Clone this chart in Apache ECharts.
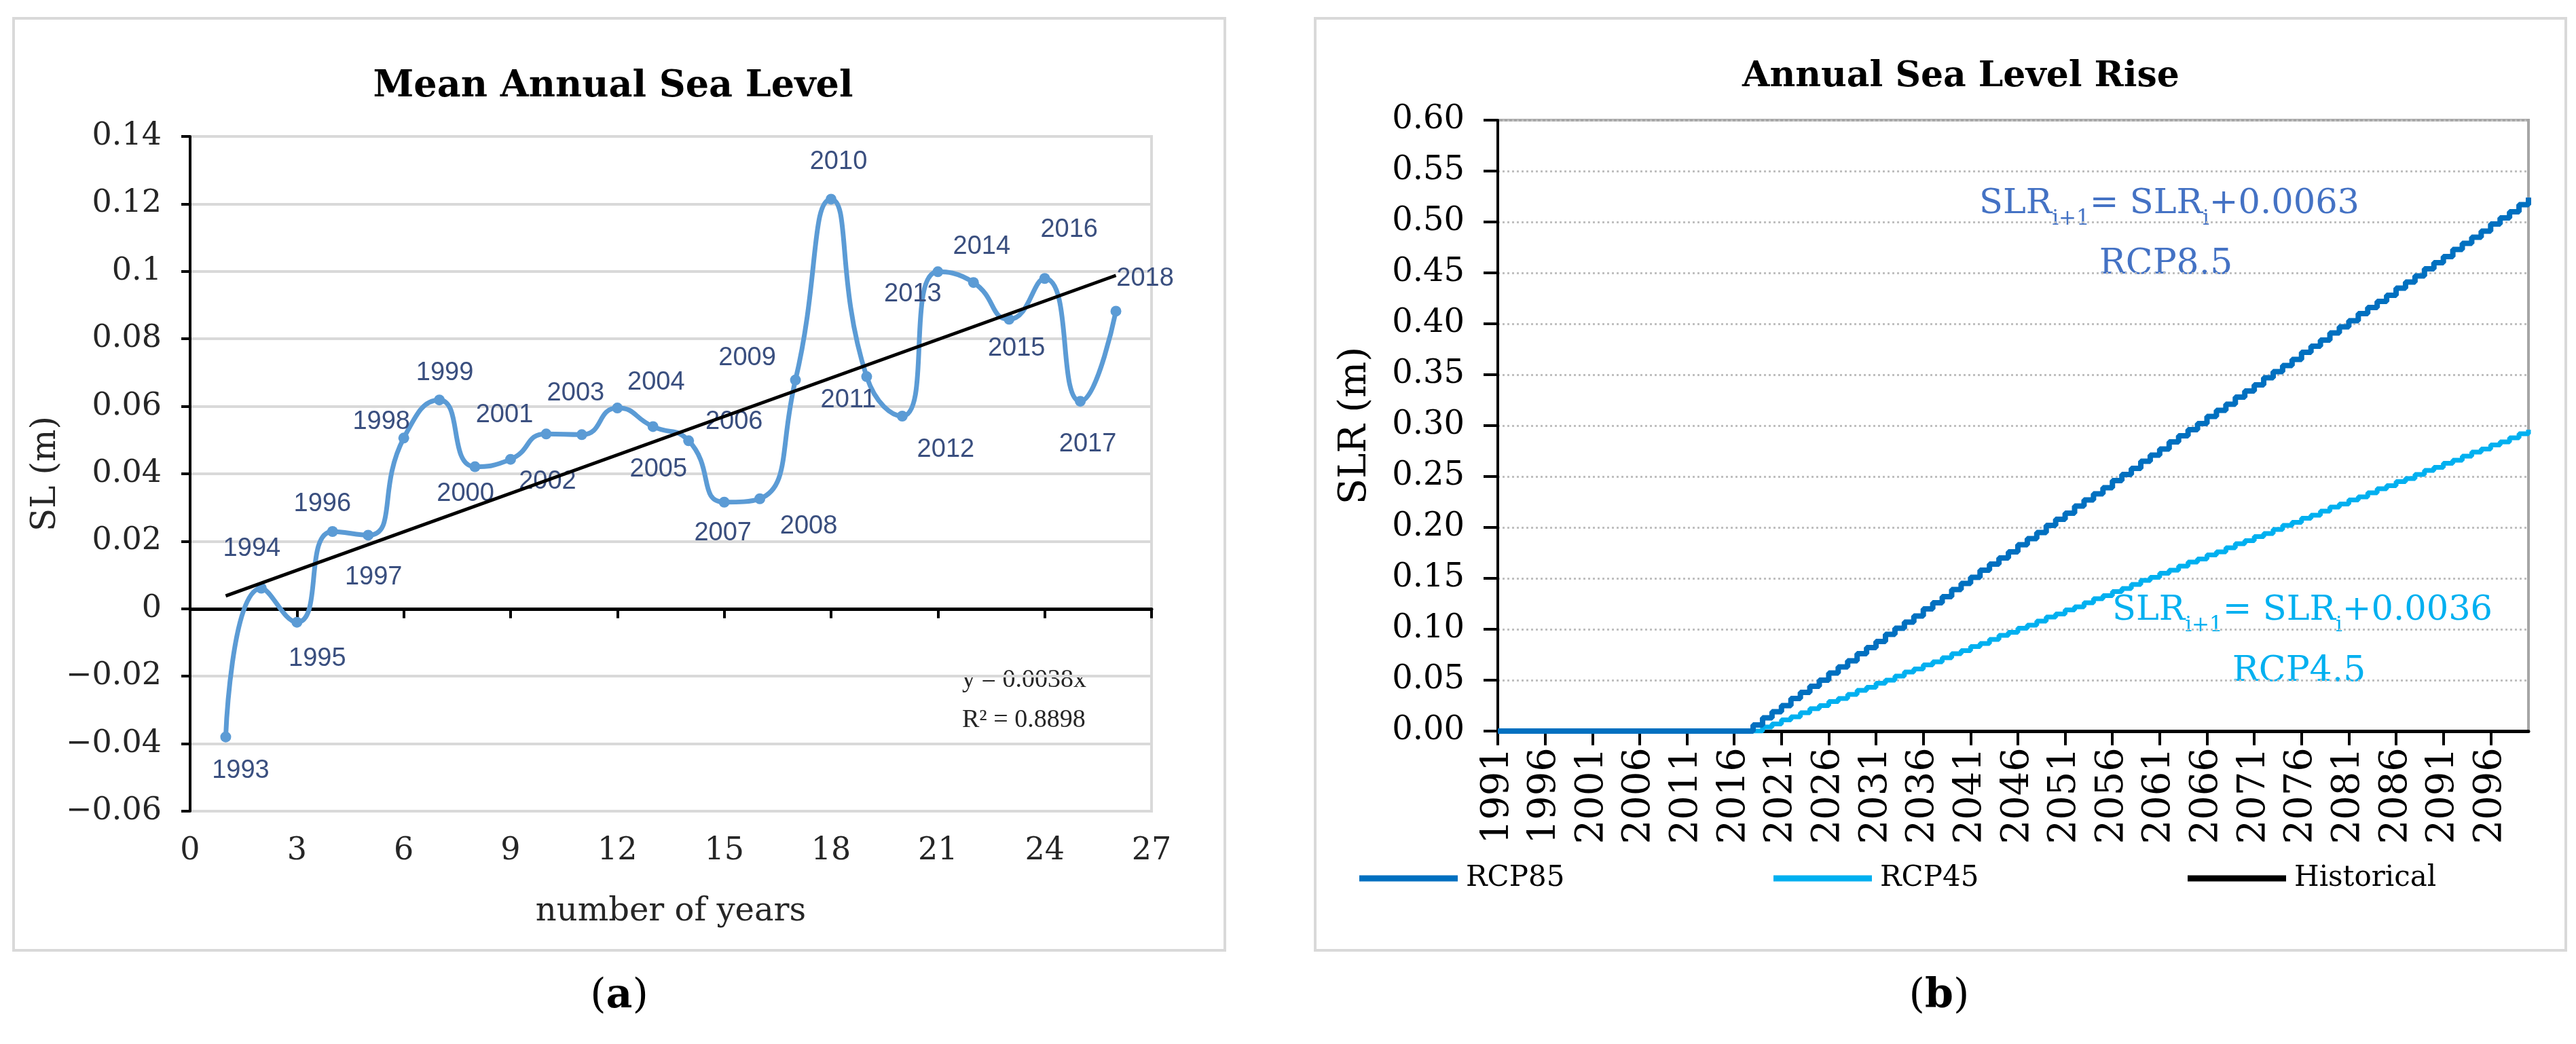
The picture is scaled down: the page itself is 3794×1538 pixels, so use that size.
<!DOCTYPE html>
<html><head><meta charset="utf-8">
<script src="https://cdn.jsdelivr.net/npm/echarts@6/dist/echarts.min.js"></script>
<style>html,body{margin:0;padding:0;background:#fff}#c{width:3794px;height:1538px}</style>
</head><body><div id="c"></div>
<script>
// ---------- Panel (a): Mean Annual Sea Level ----------
const yearsA = [1993,1994,1995,1996,1997,1998,1999,2000,2001,2002,2003,2004,2005,2006,2007,2008,2009,2010,2011,2012,2013,2014,2015,2016,2017,2018];
const yearNumA = [1,2,3,4,5,6,7,8,9,10,11,12,13,14,15,16,17,18,19,20,21,22,23,24,25,26];
const slA = [-0.038,0.0061,-0.0040,0.0229,0.0218,0.0506,0.0619,0.0421,0.0443,0.0518,0.0516,0.0595,0.0540,0.0498,0.0316,0.0326,0.0678,0.1214,0.0688,0.0571,0.0999,0.0967,0.0858,0.0979,0.0615,0.0882];
const trendX = [1, 26];
const trendY = [0.0038, 0.0988];

// ---------- Panel (b): Annual Sea Level Rise ----------
const yearsB = ['1991','1992','1993','1994','1995','1996','1997','1998','1999','2000','2001','2002','2003','2004','2005','2006','2007','2008','2009','2010','2011','2012','2013','2014','2015','2016','2017','2018','2019','2020','2021','2022','2023','2024','2025','2026','2027','2028','2029','2030','2031','2032','2033','2034','2035','2036','2037','2038','2039','2040','2041','2042','2043','2044','2045','2046','2047','2048','2049','2050','2051','2052','2053','2054','2055','2056','2057','2058','2059','2060','2061','2062','2063','2064','2065','2066','2067','2068','2069','2070','2071','2072','2073','2074','2075','2076','2077','2078','2079','2080','2081','2082','2083','2084','2085','2086','2087','2088','2089','2090','2091','2092','2093','2094','2095','2096','2097','2098','2099','2100'];
const rcp85 = [0,0,0,0,0,0,0,0,0,0,0,0,0,0,0,0,0,0,0,0,0,0,0,0,0,0,0,
 0.006,0.013,0.019,0.025,0.032,0.038,0.044,0.050,0.057,0.063,
 0.069,0.076,0.082,0.088,0.095,0.101,0.107,0.113,0.120,0.126,
 0.132,0.139,0.145,0.151,0.158,0.164,0.170,0.176,0.183,0.189,
 0.195,0.202,0.208,0.214,0.221,0.227,0.233,0.239,0.246,0.252,
 0.258,0.265,0.271,0.277,0.284,0.290,0.296,0.302,0.309,0.315,
 0.321,0.328,0.334,0.340,0.347,0.353,0.359,0.365,0.372,0.378,
 0.384,0.391,0.397,0.403,0.410,0.416,0.422,0.428,0.435,0.441,
 0.447,0.454,0.460,0.466,0.473,0.479,0.485,0.491,0.498,0.504,
 0.510,0.517,0.524];
const rcp45 = [0,0,0,0,0,0,0,0,0,0,0,0,0,0,0,0,0,0,0,0,0,0,0,0,0,0,0,0,
 0.004,0.007,0.011,0.014,0.018,0.022,0.025,0.029,0.032,0.036,
 0.040,0.043,0.047,0.050,0.054,0.058,0.061,0.065,0.068,0.072,
 0.076,0.079,0.083,0.086,0.090,0.094,0.097,0.101,0.104,0.108,
 0.112,0.115,0.119,0.122,0.126,0.130,0.133,0.137,0.140,0.144,
 0.148,0.151,0.155,0.158,0.162,0.166,0.169,0.173,0.176,0.180,
 0.184,0.187,0.191,0.194,0.198,0.202,0.205,0.209,0.212,0.216,
 0.220,0.223,0.227,0.230,0.234,0.238,0.241,0.245,0.248,0.252,
 0.256,0.259,0.263,0.266,0.270,0.274,0.277,0.281,0.284,0.288,
 0.292,0.296];
const historical = [0,0,0,0,0,0,0,0,0,0,0,0,0,0,0,0,0,0,0,0,0,0,0,0,0,0,0,0];

// label placement (style only) for the year labels of panel (a)
const labelOffsetA = [[22,50],[-14,-58],[30,54],[-15,-40],[8,62],[-33,-24],[8,-40],[-14,40],[-9,-65],[2,70],[-9,-61],[57,-38],[8,63],[67,-28],[-2,46],[72,41],[-71,-32],[11,-55],[-27,35],[64,50],[-37,33],[12,-53],[11,43],[36,-72],[11,63],[43,-48]];

const SERIF = '"DejaVu Serif", "Liberation Serif", serif';
const TIMES = '"Liberation Serif", serif';
const SANS = '"Liberation Sans", "DejaVu Sans", sans-serif';
const fmtA = v => (Math.round(v * 100) / 100).toString().replace('-', '\u2212');

const chart = echarts.init(document.getElementById('c'), null, {renderer: 'canvas', width: 3794, height: 1538});

const option = {
  animation: false,
  backgroundColor: '#ffffff',
  grid: [
    {left: 280, top: 201, width: 1416, height: 994, show: true, borderColor: '#D9D9D9', borderWidth: 4, backgroundColor: 'transparent', containLabel: false, outerBoundsMode: 'none'},
    {left: 2206, top: 177, width: 1518, height: 900, show: true, borderColor: '#A6A6A6', borderWidth: 4, backgroundColor: 'transparent', containLabel: false, outerBoundsMode: 'none'}
  ],
  xAxis: [
    {gridIndex: 0, type: 'value', min: 0, max: 27, interval: 3,
     axisLine: {show: true, onZero: true, lineStyle: {color: '#000', width: 5}},
     axisTick: {show: true, length: 14, lineStyle: {color: '#000', width: 4}},
     axisLabel: {show: false}, splitLine: {show: false}},
    {gridIndex: 0, type: 'value', min: 0, max: 27, interval: 3, position: 'bottom',
     axisLine: {show: false, onZero: false}, axisTick: {show: false},
     axisLabel: {show: true, margin: 36, fontSize: 46, fontFamily: SERIF, color: '#262626'},
     splitLine: {show: false},
     name: 'number of years', nameLocation: 'middle', nameGap: 149,
     nameTextStyle: {fontSize: 48, fontFamily: SERIF, color: '#262626', verticalAlign: 'middle'}},
    {gridIndex: 1, type: 'category', data: yearsB, boundaryGap: false,
     axisLine: {show: true, onZero: false, lineStyle: {color: '#000', width: 5}},
     axisTick: {show: true, interval: 4, length: 21, lineStyle: {color: '#000', width: 4}},
     axisLabel: {show: true, interval: 4, rotate: 90, margin: 24, fontSize: 56, fontFamily: SERIF, color: '#000'},
     splitLine: {show: false}}
  ],
  yAxis: [
    {gridIndex: 0, type: 'value', min: -0.06, max: 0.14, interval: 0.02,
     axisLine: {show: true, onZero: false, lineStyle: {color: '#000', width: 4}},
     axisTick: {show: true, length: 13, lineStyle: {color: '#000', width: 4}},
     axisLabel: {margin: 42, fontSize: 46, fontFamily: SERIF, color: '#262626', formatter: fmtA},
     splitLine: {show: true, lineStyle: {color: '#D9D9D9', width: 4}},
     name: 'SL (m)', nameLocation: 'middle', nameGap: 206, nameRotate: 90,
     nameTextStyle: {fontSize: 50, fontFamily: SERIF, color: '#262626', verticalAlign: 'middle', align: 'center'}},
    {gridIndex: 1, type: 'value', min: 0, max: 0.6, interval: 0.05,
     axisLine: {show: true, onZero: false, lineStyle: {color: '#000', width: 4}},
     axisTick: {show: true, length: 21, lineStyle: {color: '#000', width: 4}},
     axisLabel: {margin: 49, fontSize: 48, fontFamily: SERIF, color: '#000', formatter: v => v.toFixed(2)},
     splitLine: {show: true, lineStyle: {color: '#BFBFBF', width: 3, type: [3, 4]}},
     name: 'SLR (m)', nameLocation: 'middle', nameGap: 210, nameRotate: 90,
     nameTextStyle: {fontSize: 56, fontFamily: SERIF, color: '#000', verticalAlign: 'middle', align: 'center'}}
  ],
  legend: {
    data: ['RCP85', 'RCP45', 'Historical'], left: 2002, top: 1269, orient: 'horizontal',
    itemWidth: 145, itemHeight: 9, itemGap: 303, icon: 'rect', padding: 0,
    textStyle: {fontSize: 42, fontFamily: SERIF, color: '#000', lineHeight: 50, width: 150, overflow: 'none', padding: [0, 0, 0, 7]}
  },
  series: [
    {name: 'Mean annual SL', type: 'line', xAxisIndex: 0, yAxisIndex: 0, smooth: 0.55,
     symbol: 'circle', symbolSize: 16, z: 3,
     lineStyle: {color: '#5B9BD5', width: 7}, itemStyle: {color: '#5B9BD5'},
     label: {show: true, position: 'inside', formatter: p => String(yearsA[p.dataIndex]),
             fontSize: 38, fontFamily: SANS, color: '#3A4F7F'},
     emphasis: {disabled: true},
     data: slA.map((v, i) => ({value: [yearNumA[i], v], label: {offset: labelOffsetA[i]}}))},
    {name: 'Trend', type: 'line', xAxisIndex: 0, yAxisIndex: 0, symbol: 'none', z: 4,
     lineStyle: {color: '#000', width: 5}, emphasis: {disabled: true},
     data: trendX.map((x, i) => [x, trendY[i]])},
    {name: 'Historical', type: 'line', xAxisIndex: 2, yAxisIndex: 1, symbol: 'none', z: 2,
     lineStyle: {color: '#000', width: 7}, itemStyle: {color: '#000'}, data: historical},
    {name: 'RCP45', type: 'line', xAxisIndex: 2, yAxisIndex: 1, symbol: 'none', step: 'end', z: 3,
     lineStyle: {color: '#00B0F0', width: 7}, itemStyle: {color: '#00B0F0'}, data: rcp45},
    {name: 'RCP85', type: 'line', xAxisIndex: 2, yAxisIndex: 1, symbol: 'none', step: 'end', z: 4,
     lineStyle: {color: '#0070C0', width: 8}, itemStyle: {color: '#0070C0'}, data: rcp85}
  ],
  graphic: [
    {type: 'rect', z: -10, shape: {x: 20, y: 27, width: 1784, height: 1373}, style: {fill: 'none', stroke: '#D9D9D9', lineWidth: 4}},
    {type: 'rect', z: -10, shape: {x: 1937, y: 27, width: 1842, height: 1373}, style: {fill: 'none', stroke: '#D9D9D9', lineWidth: 4}},
    {type: 'text', x: 903, y: 128, style: {text: 'Mean Annual Sea Level', fontSize: 54, fontWeight: 'bold', fontFamily: SERIF, fill: '#000', align: 'center', verticalAlign: 'middle', textAlign: 'center', textVerticalAlign: 'middle'}},
    {type: 'text', x: 2888, y: 113, style: {text: 'Annual Sea Level Rise', fontSize: 52, fontWeight: 'bold', fontFamily: SERIF, fill: '#000', align: 'center', verticalAlign: 'middle', textAlign: 'center', textVerticalAlign: 'middle'}},
    {type: 'text', x: 1417, y: 1002, style: {text: 'y = 0.0038x', fontSize: 38, fontFamily: TIMES, fill: '#262626', align: 'left', verticalAlign: 'middle', textAlign: 'left', textVerticalAlign: 'middle'}},
    {type: 'text', x: 1417, y: 1061, style: {text: 'R\u00B2 = 0.8898', fontSize: 38, fontFamily: TIMES, fill: '#262626', align: 'left', verticalAlign: 'middle', textAlign: 'left', textVerticalAlign: 'middle'}},
    {type: 'text', x: 3195, y: 307, style: {text: '{m|SLR}{s|i+1}{m|= SLR}{s|i}{m|+0.0063}', align: 'center', verticalAlign: 'middle', textAlign: 'center', textVerticalAlign: 'middle',
      rich: {m: {fontSize: 51, fontFamily: SERIF, fill: '#4472C4', verticalAlign: 'top', lineHeight: 64},
             s: {fontSize: 31, fontFamily: SERIF, fill: '#4472C4', verticalAlign: 'top', lineHeight: 36, padding: [32, 0, 0, 0]}}}},
    {type: 'text', x: 3190, y: 389, style: {text: 'RCP8.5', fontSize: 52, fontFamily: SERIF, fill: '#4472C4', align: 'center', verticalAlign: 'middle', textAlign: 'center', textVerticalAlign: 'middle'}},
    {type: 'text', x: 3391, y: 906, style: {text: '{m|SLR}{s|i+1}{m|= SLR}{s|i}{m|+0.0036}', align: 'center', verticalAlign: 'middle', textAlign: 'center', textVerticalAlign: 'middle',
      rich: {m: {fontSize: 51, fontFamily: SERIF, fill: '#00B0F0', verticalAlign: 'top', lineHeight: 64},
             s: {fontSize: 31, fontFamily: SERIF, fill: '#00B0F0', verticalAlign: 'top', lineHeight: 36, padding: [32, 0, 0, 0]}}}},
    {type: 'text', x: 3386, y: 989, style: {text: 'RCP4.5', fontSize: 52, fontFamily: SERIF, fill: '#00B0F0', align: 'center', verticalAlign: 'middle', textAlign: 'center', textVerticalAlign: 'middle'}},
    {type: 'text', x: 912, y: 1468, style: {text: '{n|(}{b|a}{n|)}', align: 'center', verticalAlign: 'middle', textAlign: 'center', textVerticalAlign: 'middle',
      rich: {n: {fontSize: 60, fontFamily: SERIF, fill: '#000'}, b: {fontSize: 60, fontFamily: SERIF, fontWeight: 'bold', fill: '#000'}}}},
    {type: 'text', x: 2856, y: 1468, style: {text: '{n|(}{b|b}{n|)}', align: 'center', verticalAlign: 'middle', textAlign: 'center', textVerticalAlign: 'middle',
      rich: {n: {fontSize: 60, fontFamily: SERIF, fill: '#000'}, b: {fontSize: 60, fontFamily: SERIF, fontWeight: 'bold', fill: '#000'}}}}
  ]
};
chart.setOption(option);
</script></body></html>
